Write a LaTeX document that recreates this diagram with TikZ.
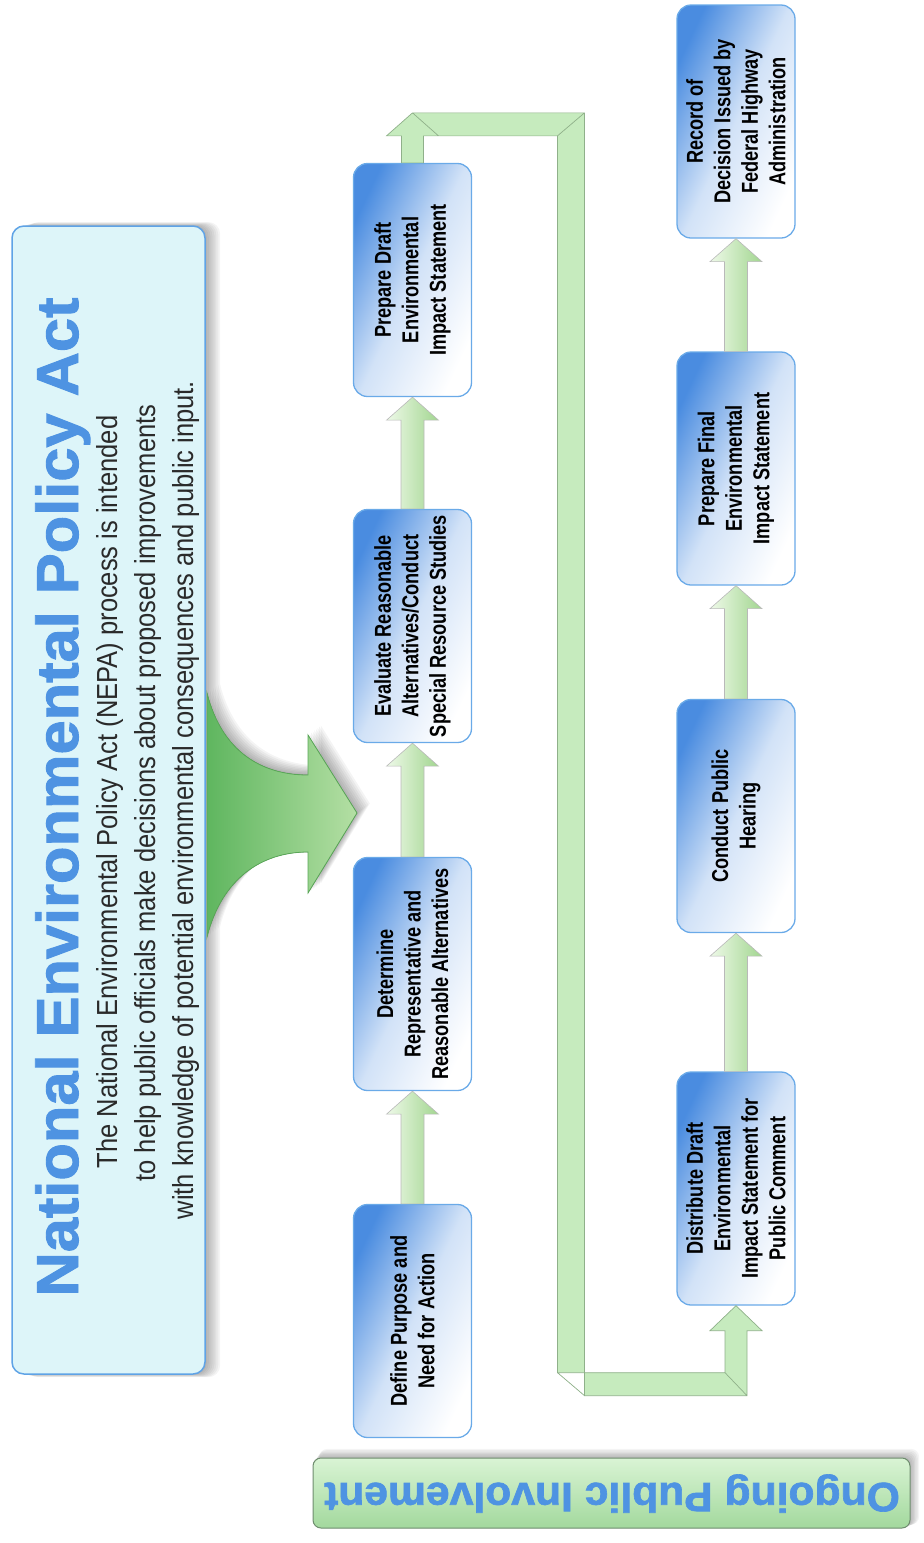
\documentclass[tikz,border=0pt]{standalone}
\usepackage{fontspec}
\setmainfont{Liberation Sans}
\newfontfamily\boxfont[FakeStretch=0.79]{Liberation Sans}
\newfontfamily\subfont[FakeStretch=0.88]{Liberation Sans}
\newfontfamily\titlefont[FakeStretch=1.04,FakeBold=1.6]{Liberation Sans}
\usetikzlibrary{calc}
\definecolor{hdrfill}{HTML}{DDF5F9}
\definecolor{hdrline}{HTML}{5FA3E6}
\definecolor{titleblue}{HTML}{4E93E2}
\definecolor{boxblue}{HTML}{4A8CE0}
\definecolor{boxline}{HTML}{6AAAE8}
\definecolor{ugreen}{HTML}{C6EBBE}
\definecolor{uline}{HTML}{8FB08A}
\definecolor{agreenL}{HTML}{5FB65F}
\definecolor{agreenR}{HTML}{B4DFA4}
\definecolor{aline}{HTML}{5AA858}
\definecolor{sagreenL}{HTML}{EEF9E8}
\definecolor{sagreenR}{HTML}{A2D690}
\definecolor{ongfill}{HTML}{C9EFC2}
\definecolor{ongline}{HTML}{6E8C6E}
\definecolor{subgray}{HTML}{2A2A2A}
\tikzset{
  procbox/.style={rectangle, rounded corners=14pt, draw=boxline, line width=1.3pt,
    minimum width=118pt, minimum height=233pt, inner sep=0pt,
    top color=boxblue, bottom color=white, middle color=boxblue!25!white, shading angle=65},
  boxtext/.style={rotate=90, align=center, text=black,
    font=\boxfont\bfseries\fontsize{23}{27.5}\selectfont},
  subtext/.style={rotate=90, anchor=base, text=subgray,
    font=\subfont\fontsize{29}{36}\selectfont},
  smallarrow/.style={left color=sagreenL, right color=sagreenR, draw=gray!55, line width=0.6pt},
  ubar/.style={fill=ugreen, draw=uline, line width=0.7pt, line join=miter},
  shadowlayer/.style={fill=black, opacity=0.045},
}
\newcommand\blockarrow[2]{%
  \draw[smallarrow] let \p1=(#1.north), \p2=(#2.south) in
    (\x1-11.5pt,\y1) -- (\x1-11.5pt,\y2-23pt) -- (\x1-26pt,\y2-23pt) -- (\x1,\y2)
    -- (\x1+26pt,\y2-23pt) -- (\x1+11.5pt,\y2-23pt) -- (\x1+11.5pt,\y1) -- cycle;}
\begin{document}
\begin{tikzpicture}[x=1pt,y=-1pt]
\useasboundingbox (0,0) rectangle (924,1543);
% shadows
\foreach \i in {1,...,8}
  \fill[shadowlayer, rounded corners=12pt] (12+\i*1.9, 226-\i*0.5) rectangle (205+\i*1.9, 1374+\i*0.4);
\foreach \i in {1,...,7}
  \fill[shadowlayer, rounded corners=8pt] (313+\i*0.9, 1458-\i*1.3) rectangle (910+\i*1.3, 1528-\i*0.5);
\foreach \i in {1,...,8}
  \fill[shadowlayer] (207+\i*1.6,693-\i*1.2) .. controls (222+\i*1.6,752-\i*1.2) and (262+\i*1.6,775-\i*1.2) .. (308+\i*1.6,775-\i*1.2)
    -- (308+\i*1.6,735-\i*1.2) -- (357+\i*1.6,813-\i*1.2) -- (308+\i*1.6,893-\i*1.2) -- (308+\i*1.6,852-\i*1.2)
    .. controls (262+\i*1.6,852-\i*1.2) and (222+\i*1.6,878-\i*1.2) .. (207+\i*1.6,937-\i*1.2) -- cycle;

% header
\node[rectangle, rounded corners=12pt, fill=hdrfill, draw=hdrline, line width=1.5pt,
  minimum width=193pt, minimum height=1148pt] (hdr) at (108.5,800) {};
\node[rotate=90, anchor=base, text=titleblue, font=\titlefont\bfseries\fontsize{59}{70}\selectfont]
  (title) at (78,797) {National Environmental Policy Act};
\node[subtext] (s1) at (117,792) {The National Environmental Policy Act (NEPA) process is intended};
\node[subtext] (s2) at (155,793) {to help public officials make decisions about proposed improvements};
\node[subtext] (s3) at (193,800) {with knowledge of potential environmental consequences and public input.};

% big curved arrow
\fill[left color=agreenL, right color=agreenR, draw=aline, line width=0.8pt]
  (207,693) .. controls (222,752) and (262,775) .. (308,775) -- (308,735) -- (357,813)
  -- (308,893) -- (308,852) .. controls (262,852) and (222,878) .. (207,937) -- cycle;

% process boxes, column 1
\node[procbox] (b1) at (412.5,1321) {};
\node[procbox] (b2) at (412.5,974) {};
\node[procbox] (b3) at (412.5,626) {};
\node[procbox] (b4) at (412.5,280) {};
% column 2
\node[procbox] (c1) at (736,1188.5) {};
\node[procbox] (c2) at (736,816) {};
\node[procbox] (c3) at (736,468.5) {};
\node[procbox] (c4) at (736,121.5) {};

\node[boxtext] (t1) at (b1) {Define Purpose and\\Need for Action};
\node[boxtext] (t2) at (b2) {Determine\\Representative and\\Reasonable Alternatives};
\node[boxtext] (t3) at (b3) {Evaluate Reasonable\\Alternatives/Conduct\\Special Resource Studies};
\node[boxtext] (t4) at (b4) {Prepare Draft\\Environmental\\Impact Statement};
\node[boxtext] (u1) at (c1) {Distribute Draft\\Environmental\\Impact Statement for\\Public Comment};
\node[boxtext] (u2) at (c2) {Conduct Public\\Hearing};
\node[boxtext] (u3) at (c3) {Prepare Final\\Environmental\\Impact Statement};
\node[boxtext] (u4) at (c4) {Record of\\Decision Issued by\\Federal Highway\\Administration};

% small arrows
\blockarrow{b1}{b2}
\blockarrow{b2}{b3}
\blockarrow{b3}{b4}
\blockarrow{c1}{c2}
\blockarrow{c2}{c3}
\blockarrow{c3}{c4}

% U connector from b4 to c1
\draw[ubar] let \p1=(b4.north), \p2=(c1.south) in
  (\x1-11pt,\y1) -- (\x1-11pt,\y1+27pt) -- (\x1-26pt,\y1+27pt) -- (\x1,\y1+50pt)
  -- (\x1+172pt,\y1+50pt) -- (\x1+172pt,\y2-90pt) -- (\x2+11pt,\y2-90pt) -- (\x2+11pt,\y2-25pt)
  -- (\x2+26pt,\y2-25pt) -- (\x2,\y2) -- (\x2-26pt,\y2-25pt) -- (\x2-11pt,\y2-25pt)
  -- (\x2-11pt,\y2-67pt) -- (\x1+145pt,\y2-67pt) -- (\x1+145pt,\y1+27pt) -- (\x1+11pt,\y1+27pt)
  -- (\x1+11pt,\y1) -- cycle
  (\x1,\y1+50pt) -- (\x1+26pt,\y1+27pt)
  (\x1+145pt,\y1+27pt) -- (\x1+172pt,\y1+50pt)
  (\x1+145pt,\y2-67pt) -- (\x1+172pt,\y2-90pt)
  (\x2-11pt,\y2-67pt) -- (\x2+11pt,\y2-90pt);

% ongoing public involvement
\node[rectangle, rounded corners=8pt, top color=ongfill!70!white, bottom color=ongfill!90!green!90!black,
  draw=ongline, line width=1pt, minimum width=597pt, minimum height=70pt] (ong) at (611.5,1493) {};
\node[rotate=180, anchor=base, text=titleblue, font=\titlefont\bfseries\fontsize{41}{50}\selectfont]
  (ongt) at (612,1483) {Ongoing Public Involvement};
\end{tikzpicture}
\end{document}
